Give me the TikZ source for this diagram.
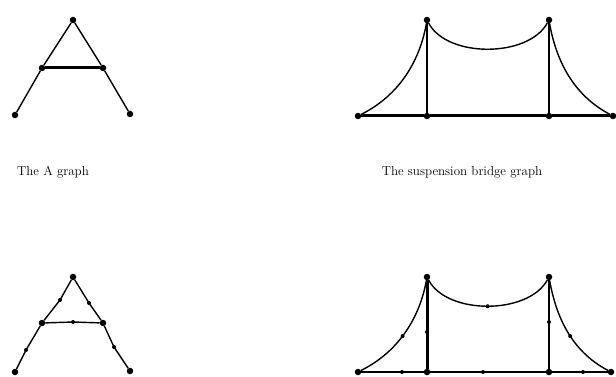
\documentclass[tikz,border=0pt]{standalone}
\usetikzlibrary{positioning}
\tikzset{
  vtx/.style={circle, fill=black, inner sep=0pt, minimum size=6.5pt},
  subvtx/.style={circle, fill=black, inner sep=0pt, minimum size=4pt},
  edge/.style={draw=black, line width=1.4pt},
  heavyedge/.style={draw=black, line width=3pt},
  caption/.style={font=\fontsize{13}{15}\selectfont}
}
\begin{document}
\begin{tikzpicture}[x=1pt, y=-1pt]
  \useasboundingbox (0,0) rectangle (616,377);

  % the A graph
  \node[vtx] (at) at (73,20) {};
  \node[vtx] (al) at (42,68) {};
  \node[vtx] (ar) at (103,68) {};
  \node[vtx] (abl) at (15,115) {};
  \node[vtx] (abr) at (130,114) {};
  \draw[edge] (abl) -- (al) -- (at) -- (ar) -- (abr);
  \draw[heavyedge] (al) -- (ar);
  \node[caption] (acap) at (53,172) {The A graph};

  % the suspension bridge graph
  \node[vtx] (dl) at (358,116) {};
  \node[vtx] (tl) at (427,116) {};
  \node[vtx] (tr) at (549,116) {};
  \node[vtx] (dr) at (613,116) {};
  \node[vtx] (pl) at (427,20) {};
  \node[vtx] (pr) at (549,20) {};
  \draw[heavyedge] (dl) -- (tl) -- (tr) -- (dr);
  \draw[edge] (tl) -- (pl);
  \draw[edge] (tr) -- (pr);
  \draw[edge] (dl) .. controls (400,95) and (420,60) .. (pl);
  \draw[edge] (pl) .. controls (447,58) and (528,58) .. (pr);
  \draw[edge] (pr) .. controls (556,60) and (573,95) .. (dr);
  \node[caption] (bcap) at (462,172) {The suspension bridge graph};

  % the A graph, subdivided
  \node[vtx] (st) at (73,277) {};
  \node[vtx] (sl) at (42,323) {};
  \node[vtx] (sr) at (103,323) {};
  \node[vtx] (sbl) at (15,372) {};
  \node[vtx] (sbr) at (130,371) {};
  \node[subvtx] (s1) at (60,300) {};
  \node[subvtx] (s2) at (89,303) {};
  \node[subvtx] (s3) at (73,322) {};
  \node[subvtx] (s4) at (26,350) {};
  \node[subvtx] (s5) at (114,347) {};
  \draw[edge] (sbl) -- (s4.center) -- (sl) -- (s1.center) -- (st) -- (s2.center) -- (sr) -- (s5.center) -- (sbr);
  \draw[edge] (sl) -- (s3.center) -- (sr);

  % the suspension bridge graph, subdivided
  \node[vtx] (udl) at (358,372) {};
  \node[vtx] (utl) at (427,372) {};
  \node[vtx] (utr) at (549,372) {};
  \node[vtx] (udr) at (611,372) {};
  \node[vtx] (upl) at (427,277) {};
  \node[vtx] (upr) at (549,277) {};
  \node[subvtx] (u1) at (402,372) {};
  \node[subvtx] (u2) at (483,372) {};
  \node[subvtx] (u3) at (583,372) {};
  \node[subvtx] (u4) at (427,332) {};
  \node[subvtx] (u5) at (549,322) {};
  \draw[edge] (udl) -- (u1.center) -- (utl) -- (u2.center) -- (utr) -- (u3.center) -- (udr);
  \draw[heavyedge] (utl) -- (u4.center) -- (upl);
  \draw[edge] (utr) -- (u5.center) -- (upr);
  \draw[edge] (udl) .. controls (400,351) and (420,316) .. (upl) node[subvtx, pos=0.45] (u6) {};
  \draw[edge] (upl) .. controls (447,315) and (528,315) .. (upr) node[subvtx, pos=0.5] (u7) {};
  \draw[edge] (upr) .. controls (556,316) and (571,351) .. (udr) node[subvtx, pos=0.55] (u8) {};
\end{tikzpicture}
\end{document}
